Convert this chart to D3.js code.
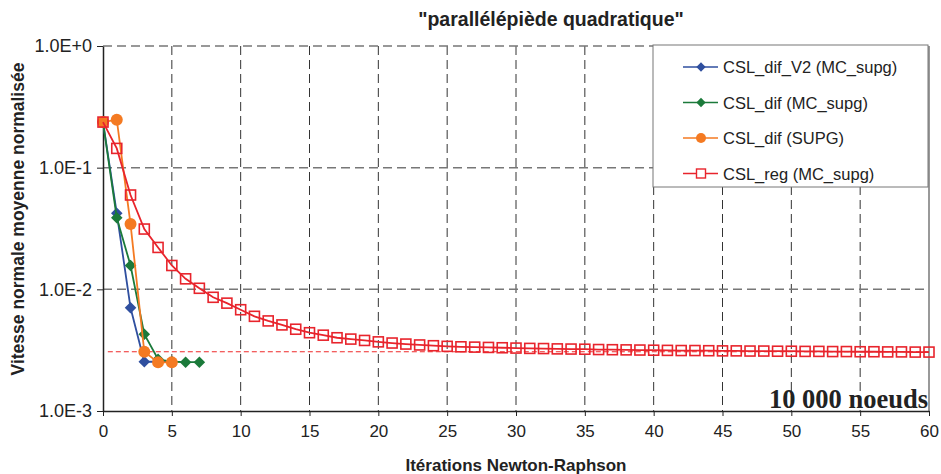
<!DOCTYPE html>
<html>
<head>
<meta charset="utf-8">
<script src="https://cdn.jsdelivr.net/npm/d3@7"></script>
<style>
  body { margin: 0; background: #fff; }
  svg { font-family: "Liberation Sans", Arial, sans-serif; }
</style>
</head>
<body>
<div id="chart"></div>
<script>
// data
var iterDifV2 = [0, 1, 2, 3, 4, 5];
var valDifV2 = [0.237, 0.0422, 0.00706, 0.00254, 0.00254, 0.00254];

var iterDif = [0, 1, 2, 3, 4, 5, 6, 7];
var valDif = [0.237, 0.0388, 0.0157, 0.00427, 0.00266, 0.00254, 0.00252, 0.00252];

var iterSupg = [0, 1, 2, 3, 4, 5];
var valSupg = [0.237, 0.248, 0.0344, 0.00307, 0.00251, 0.00251];

var valReg = [0.237, 0.144, 0.0596, 0.0313, 0.0221, 0.0157, 0.0122, 0.0102, 0.0086, 0.0077,
              0.0068, 0.0060, 0.0055, 0.0051, 0.0047, 0.0044, 0.0042, 0.0040, 0.0039, 0.0038,
              0.0037, 0.00362, 0.00355, 0.00349, 0.00344, 0.0034, 0.00337, 0.00335, 0.00333, 0.00331,
              0.00329, 0.00327, 0.00326, 0.00324, 0.00323, 0.00322, 0.0032, 0.00319, 0.00318, 0.00317,
              0.00316, 0.00315, 0.00314, 0.00314, 0.00313, 0.00312, 0.00312, 0.00311, 0.00311, 0.0031,
              0.0031, 0.00309, 0.00309, 0.00308, 0.00308, 0.00307, 0.00307, 0.00306, 0.00306, 0.00305,
              0.00305];
var iterReg = valReg.map(function(d, i) { return i; });

// red dashed reference level
var refLevel = 0.00307;
var refRange = [0.35, 60];

var xTicks = [0, 5, 10, 15, 20, 25, 30, 35, 40, 45, 50, 55, 60];
var yTicks = [1, 0.1, 0.01, 0.001];
var yTickLabels = ["1.0E+0", "1.0E-1", "1.0E-2", "1.0E-3"];

var margin = {top: 46, right: 12, bottom: 63, left: 103};
var width = 941 - margin.left - margin.right;
var height = 474 - margin.top - margin.bottom;

var x = d3.scaleLinear().domain([0, 60]).range([0, width]);
var y = d3.scaleLog().domain([0.001, 1]).range([height, 0]);

var svg = d3.select("#chart").append("svg")
    .attr("width", 941)
    .attr("height", 474)
  .append("g")
    .attr("transform", `translate(${margin.left},${margin.top})`);

// grid
svg.selectAll(".vgrid")
    .data(xTicks.filter(function(d) { return d > 0 && d < 60; }))
    .enter().append("line")
    .attr("x1", function(d) { return x(d); })
    .attr("x2", function(d) { return x(d); })
    .attr("y1", 0)
    .attr("y2", height)
    .style("stroke", "#333")
    .style("stroke-width", 1)
    .style("stroke-dasharray", "9,5");

svg.selectAll(".hgrid")
    .data([1, 0.1, 0.01])
    .enter().append("line")
    .attr("x1", 0)
    .attr("x2", width)
    .attr("y1", function(d) { return y(d); })
    .attr("y2", function(d) { return y(d); })
    .style("stroke", "#777")
    .style("stroke-width", 1.5)
    .style("stroke-dasharray", "9,5");

// right border
svg.append("line")
    .attr("x1", width).attr("x2", width)
    .attr("y1", 0).attr("y2", height)
    .style("stroke", "#777")
    .style("stroke-width", 1.5);

// axes
var xAxis = d3.axisBottom(x).tickValues(xTicks).tickSize(5).tickSizeOuter(0);
svg.append("g")
    .attr("transform", "translate(0," + height + ")")
    .call(xAxis)
    .call(function(g) {
      g.select(".domain").style("stroke", "#222").style("stroke-width", 1.5);
      g.selectAll(".tick line").style("stroke", "#222");
      g.selectAll(".tick text").attr("y", 14).attr("dy", "0.71em").style("font-size", "17px")
        .style("font-family", "Liberation Sans, Arial, sans-serif").style("fill", "#222");
    });

var yAxis = d3.axisLeft(y).tickValues(yTicks)
    .tickFormat(function(d, i) { return yTickLabels[i]; })
    .tickSize(6).tickSizeOuter(0);
svg.append("g")
    .call(yAxis)
    .call(function(g) {
      g.select(".domain").style("stroke", "#222").style("stroke-width", 1.5);
      g.selectAll(".tick line").style("stroke", "#222");
      g.selectAll(".tick text").attr("x", -11).style("font-size", "18px")
        .style("font-family", "Liberation Sans, Arial, sans-serif").style("fill", "#222");
    });

// reference dashed line
svg.append("line")
    .attr("x1", x(refRange[0])).attr("x2", x(refRange[1]))
    .attr("y1", y(refLevel)).attr("y2", y(refLevel))
    .style("stroke", "#ee2a2a")
    .style("stroke-width", 1.2)
    .style("stroke-dasharray", "5,3");

var series = [
  {name: "CSL_dif_V2 (MC_supg)", xs: iterDifV2, ys: valDifV2, color: "#2f4f9f", shape: "diamond"},
  {name: "CSL_dif (MC_supg)", xs: iterDif, ys: valDif, color: "#1b7a3a", shape: "diamond"},
  {name: "CSL_dif (SUPG)", xs: iterSupg, ys: valSupg, color: "#f47a22", shape: "circle"},
  {name: "CSL_reg (MC_supg)", xs: iterReg, ys: valReg, color: "#e8242c", shape: "square"}
];

var line = d3.line()
    .x(function(d) { return x(d[0]); })
    .y(function(d) { return y(d[1]); });

function drawMarker(sel, s) {
  if (s.shape === "diamond") {
    sel.append("path")
      .attr("d", d3.symbol().type(d3.symbolDiamond2).size(85)())
      .style("fill", s.color);
  } else if (s.shape === "circle") {
    sel.append("circle").attr("r", 6).style("fill", s.color);
  } else {
    sel.append("rect")
      .attr("x", -5).attr("y", -5).attr("width", 10).attr("height", 10)
      .style("fill", "none").style("stroke", s.color).style("stroke-width", 1.6);
  }
}

series.forEach(function(s) {
  var pts = s.xs.map(function(d, i) { return [d, s.ys[i]]; });
  svg.append("path")
      .datum(pts)
      .attr("d", line)
      .style("fill", "none")
      .style("stroke", s.color)
      .style("stroke-width", 1.8);
  svg.selectAll(null)
      .data(pts)
      .enter().append("g")
      .attr("transform", function(d) { return "translate(" + x(d[0]) + "," + y(d[1]) + ")"; })
      .each(function() { drawMarker(d3.select(this), s); });
});

// legend
var legend = svg.append("g")
    .attr("transform", "translate(" + (653 - margin.left) + "," + (45 - margin.top) + ")");
legend.append("rect")
    .attr("width", 275)
    .attr("height", 142)
    .style("fill", "#fff")
    .style("stroke", "#777")
    .style("stroke-width", 1);

series.forEach(function(s, i) {
  var g = legend.append("g").attr("transform", "translate(0," + (22 + i * 35.5) + ")");
  g.append("line")
    .attr("x1", 30).attr("x2", 65)
    .style("stroke", s.color).style("stroke-width", 1.5);
  var m = g.append("g").attr("transform", "translate(48,0)");
  if (s.shape === "circle") {
    m.append("circle").attr("r", 5).style("fill", s.color);
  } else if (s.shape === "square") {
    m.append("rect").attr("x", -4.5).attr("y", -4.5).attr("width", 9).attr("height", 9)
      .style("fill", "#fff").style("stroke", s.color).style("stroke-width", 1.4);
  } else {
    m.append("path").attr("d", d3.symbol().type(d3.symbolDiamond2).size(55)()).style("fill", s.color);
  }
  g.append("text")
    .attr("x", 70)
    .attr("y", 6)
    .style("font-size", "16.5px")
    .style("fill", "#222")
    .text(s.name);
});

// annotation
svg.append("text")
    .attr("x", width - 1)
    .attr("y", height - 3)
    .attr("text-anchor", "end")
    .style("font-family", "Liberation Serif, Times New Roman, serif")
    .style("font-weight", 700)
    .style("font-size", "26.5px")
    .style("fill", "#222")
    .text("10 000 noeuds");

// titles
svg.append("text")
    .attr("x", 551 - margin.left)
    .attr("y", 26 - margin.top)
    .attr("text-anchor", "middle")
    .style("font-size", "19.5px")
    .style("font-weight", 700)
    .style("fill", "#222")
    .text("\"parallélépiède quadratique\"");

svg.append("text")
    .attr("x", 516 - margin.left)
    .attr("y", 471 - margin.top)
    .attr("text-anchor", "middle")
    .style("font-size", "17px")
    .style("font-weight", 700)
    .style("fill", "#222")
    .text("Itérations Newton-Raphson");

svg.append("text")
    .attr("transform", "rotate(-90)")
    .attr("x", -(219 - margin.top))
    .attr("y", 24 - margin.left)
    .attr("text-anchor", "middle")
    .style("font-size", "17.5px")
    .style("font-weight", 700)
    .style("fill", "#222")
    .text("Vitesse normale moyenne normalisée");
</script>
</body>
</html>
